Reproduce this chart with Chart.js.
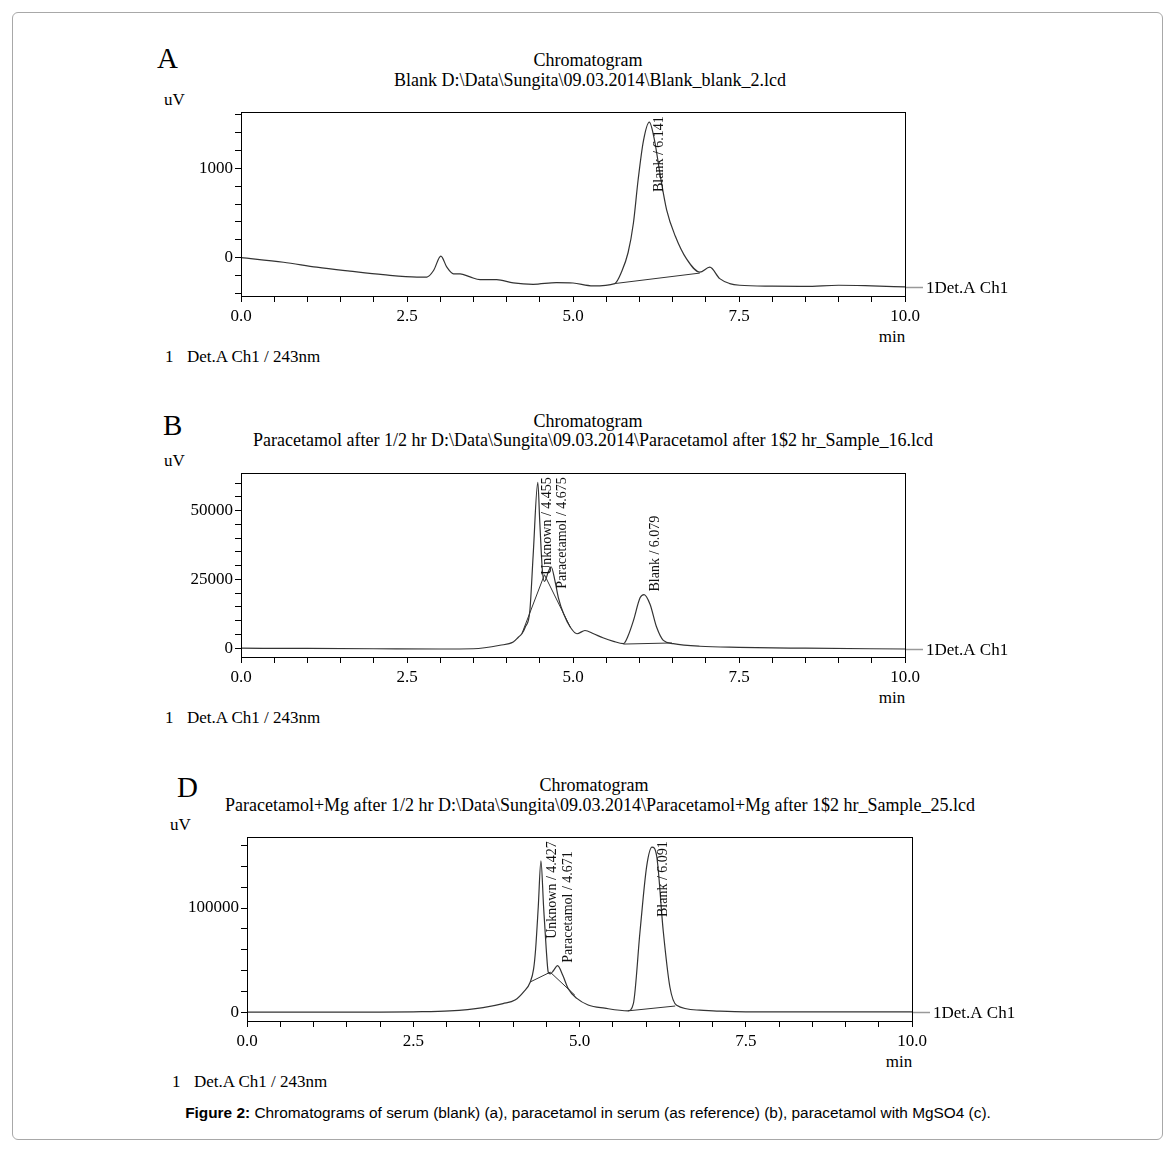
<!DOCTYPE html>
<html>
<head>
<meta charset="utf-8">
<script src="https://cdn.jsdelivr.net/npm/chart.js@4.4.1/dist/chart.umd.min.js"></script>
<style>
body { margin: 0; background: #fff; }
#page { position: relative; width: 1175px; height: 1151px; font-family: 'Liberation Serif', serif; color: #000; }
#frame { position: absolute; left: 12px; top: 12px; width: 1149px; height: 1126px; border: 1px solid #a8a8a8; border-radius: 6px; }
.t { position: absolute; white-space: nowrap; line-height: 1; transform: translateY(-50%); font-size: 17px; }
.c { transform: translate(-50%, -50%); }
.title { font-size: 18px; }
.letter { font-size: 29px; }
canvas { position: absolute; }
#caption { font-family: 'Liberation Sans', Arial, sans-serif; font-size: 15.4px; }
</style>
</head>
<body>
<div id="page">
  <div id="frame"></div>

  <div class="t letter" style="left:157px;top:58px">A</div>
  <div class="t c title" style="left:588px;top:60px">Chromatogram</div>
  <div class="t c title" style="left:590px;top:80px">Blank D:\Data\Sungita\09.03.2014\Blank_blank_2.lcd</div>
  <div class="t" style="left:164px;top:99px">uV</div>
  <div class="t c" style="left:892px;top:336px">min</div>
  <div class="t" style="left:165px;top:356px">1</div>
  <div class="t" style="left:187px;top:356px">Det.A Ch1 / 243nm</div>
  <canvas id="chartA" width="859" height="230" style="left:161px;top:100px"></canvas>

  <div class="t letter" style="left:163px;top:425px">B</div>
  <div class="t c title" style="left:588px;top:421px">Chromatogram</div>
  <div class="t c title" style="left:593px;top:440px">Paracetamol after 1/2 hr D:\Data\Sungita\09.03.2014\Paracetamol after 1$2 hr_Sample_16.lcd</div>
  <div class="t" style="left:164px;top:460px">uV</div>
  <div class="t c" style="left:892px;top:697px">min</div>
  <div class="t" style="left:165px;top:717px">1</div>
  <div class="t" style="left:187px;top:717px">Det.A Ch1 / 243nm</div>
  <canvas id="chartB" width="859" height="230" style="left:161px;top:461px"></canvas>

  <div class="t letter" style="left:177px;top:787px">D</div>
  <div class="t c title" style="left:594px;top:785px">Chromatogram</div>
  <div class="t c title" style="left:600px;top:805px">Paracetamol+Mg after 1/2 hr D:\Data\Sungita\09.03.2014\Paracetamol+Mg after 1$2 hr_Sample_25.lcd</div>
  <div class="t" style="left:170px;top:824px">uV</div>
  <div class="t c" style="left:899px;top:1061px">min</div>
  <div class="t" style="left:172px;top:1081px">1</div>
  <div class="t" style="left:194px;top:1081px">Det.A Ch1 / 243nm</div>
  <canvas id="chartD" width="859" height="230" style="left:167px;top:825px"></canvas>

  <div id="caption" class="t c" style="left:588px;top:1113px"><b>Figure 2:</b> Chromatograms of serum (blank) (a), paracetamol in serum (as reference) (b), paracetamol with MgSO4 (c).</div>
</div>

<script>
Chart.defaults.font.family = "'Liberation Serif', serif";
Chart.defaults.font.size = 17;
Chart.defaults.color = '#000';

// A: blank serum
const aTime = [0, 0.64, 1.14, 1.64, 2.14, 2.65, 2.8, 2.9, 3.01, 3.1, 3.2, 3.3, 3.45, 3.6, 3.85, 4.1, 4.4, 4.75, 5.0, 5.3,
               5.63, 5.73, 5.83, 5.91, 5.98, 6.06, 6.15, 6.23, 6.31, 6.41, 6.54, 6.71, 6.91, 7.06, 7.21, 7.36, 7.51,
               8.0, 8.5, 9.0, 9.5, 10.0];
const aSignal = [0, -51, -106, -150, -190, -216, -216, -143, 18, -106, -180, -180, -215, -245, -245, -282, -297, -278, -283, -315,
                 -289, -161, 58, 388, 865, 1304, 1516, 1304, 937, 535, 242, -14, -161, -106, -234, -289, -308,
                 -318, -320, -308, -315, -326];
const aBaseTime = [[5.63, 6.91]];
const aBaseVal = [[-289, -172]];
const aPeakNames = ['Blank / 6.141'];
const aPeakTimes = [6.141];
const aYLabels = [0, 1000];

// B: paracetamol after 1/2 hr
const bTime = [0, 1.0, 2.0, 3.0, 3.5, 3.9, 4.1, 4.18, 4.23, 4.28, 4.35, 4.40, 4.47, 4.5, 4.54, 4.57, 4.63, 4.67, 4.73, 4.78,
               4.86, 4.96, 5.06, 5.18, 5.31, 5.45, 5.61, 5.76, 5.83, 5.91, 6.01, 6.07, 6.16, 6.26, 6.36, 6.51, 6.91,
               7.5, 8.5, 10.0];
const bSignal = [0, -100, -200, -300, -200, 1070, 2250, 4050, 5250, 7600, 13570, 33800, 60250, 45700, 27860, 24300, 27860, 29600, 24300, 18300,
                 12400, 7600, 5250, 6430, 5250, 3800, 2500, 1680, 4500, 10000, 18300, 19500, 16000, 7600, 2860, 1680, 700,
                 300, 0, -300];
const bBaseTime = [[4.23, 4.57, 4.96], [5.76, 6.49]];
const bBaseVal = [[5250, 26700, 7600], [1500, 1900]];
const bPeakNames = ['Unknown / 4.455', 'Paracetamol / 4.675', 'Blank / 6.079'];
const bPeakTimes = [4.455, 4.675, 6.079];
const bYLabels = [0, 25000, 50000];

// D: paracetamol + Mg after 1/2 hr
const dTime = [0, 1.0, 2.0, 2.5, 3.05, 3.55, 3.85, 4.03, 4.16, 4.26, 4.31, 4.34, 4.38, 4.42, 4.46, 4.5, 4.53, 4.56, 4.61, 4.67,
               4.75, 4.83, 4.96, 5.13, 5.38, 5.73, 5.81, 5.91, 6.01, 6.09, 6.16, 6.26, 6.36, 6.46, 6.81, 7.11, 7.5,
               8.5, 10.0];
const dSignal = [0, 0, 0, 300, 1200, 4400, 8200, 11600, 19500, 29000, 41500, 60400, 101200, 145300, 101200, 60400, 38400, 36800, 40000, 44600,
                 35200, 22600, 13200, 6900, 3800, 1250, 8200, 77400, 140000, 158500, 150000, 77400, 23900, 6600, 1900, 900, 300,
                 300, 300];
const dBaseTime = [[4.26, 4.56, 4.93], [5.73, 6.44]];
const dBaseVal = [[29000, 38400, 16300], [1250, 5900]];
const dPeakNames = ['Unknown / 4.427', 'Paracetamol / 4.671', 'Blank / 6.091'];
const dPeakTimes = [4.427, 4.671, 6.091];
const dYLabels = [0, 100000];

const INK = '#333';

function points(times, values) {
    return times.map((t, i) => ({x: t, y: values[i]}));
}

// box round the plot area
const framePlugin = {
    id: 'frame',
    afterDraw(chart) {
        const a = chart.chartArea;
        const ctx = chart.ctx;
        ctx.save();
        ctx.strokeStyle = '#000';
        ctx.lineWidth = 1;
        ctx.strokeRect(Math.round(a.left) + 0.5, Math.round(a.top) + 0.5,
                       Math.round(a.right - a.left), Math.round(a.bottom - a.top));
        ctx.restore();
    }
};

// rotated peak names + channel tag at the right end of the trace
function peakLabels(names, times) {
    return {
        id: 'peaks',
        afterDatasetsDraw(chart) {
            const ctx = chart.ctx;
            const area = chart.chartArea;
            const xs = chart.scales.x, ys = chart.scales.y;
            const sig = chart.data.datasets[0].data;
            ctx.save();
            ctx.fillStyle = '#111';
            ctx.font = "14px 'Liberation Serif'";
            names.forEach((name, i) => {
                const rt = times[i];
                const apex = Math.max(...sig.filter(p => Math.abs(p.x - rt) < 0.07).map(p => p.y));
                const w = ctx.measureText(name).width;
                let y0 = ys.getPixelForValue(apex) - 3;
                if (y0 - w < area.top + 4) y0 = area.top + 4 + w;
                ctx.save();
                ctx.translate(xs.getPixelForValue(rt) + 4, y0);
                ctx.rotate(-Math.PI / 2);
                ctx.textBaseline = 'top';
                ctx.fillText(name, 0, 0);
                ctx.restore();
            });
            const last = sig[sig.length - 1];
            const yEnd = Math.round(ys.getPixelForValue(last.y)) + 0.5;
            ctx.strokeStyle = '#999';
            ctx.lineWidth = 1.5;
            ctx.beginPath();
            ctx.moveTo(area.right, yEnd);
            ctx.lineTo(area.right + 18, yEnd);
            ctx.stroke();
            ctx.font = "17px 'Liberation Serif'";
            ctx.fillStyle = '#000';
            ctx.textBaseline = 'middle';
            ctx.fillText('1Det.A Ch1', area.right + 21, yEnd + 1);
            ctx.restore();
        }
    };
}

function makeChart(id, c) {
    const datasets = [{
        data: points(c.time, c.signal),
        borderColor: INK,
        borderWidth: 1.2,
        pointRadius: 0,
        cubicInterpolationMode: 'monotone'
    }];
    c.baseTime.forEach((bt, i) => {
        datasets.push({
            data: points(bt, c.baseVal[i]),
            borderColor: INK,
            borderWidth: 1,
            pointRadius: 0,
            tension: 0
        });
    });
    return new Chart(document.getElementById(id), {
        type: 'line',
        data: {datasets: datasets},
        options: {
            responsive: false,
            animation: false,
            devicePixelRatio: 1,
            layout: {padding: {top: 9, right: c.padRight, left: 0, bottom: 0}},
            plugins: {legend: {display: false}, tooltip: {enabled: false}},
            scales: {
                x: {
                    type: 'linear', min: 0, max: 10,
                    afterFit: s => { s.height = 34; },
                    grid: {drawOnChartArea: false, tickLength: 6, color: '#000'},
                    border: {color: '#000'},
                    ticks: {
                        stepSize: 0.5, autoSkip: false, maxRotation: 0, padding: 4, includeBounds: false,
                        callback: v => (Math.abs(v % 2.5) < 1e-6 ? v.toFixed(1) : '')
                    }
                },
                y: {
                    type: 'linear', min: c.yMin, max: c.yMax,
                    afterFit: s => { s.width = 80; },
                    // minor ticks on whole multiples of the step, not spread from min to max
                    afterBuildTicks: s => {
                        const t = [];
                        for (let v = Math.ceil(c.yMin / c.yStep) * c.yStep; v <= c.yMax; v += c.yStep) t.push({value: v});
                        s.ticks = t;
                    },
                    grid: {drawOnChartArea: false, tickLength: 6, color: '#000'},
                    border: {color: '#000'},
                    ticks: {
                        autoSkip: false, padding: 2,
                        callback: v => (c.yLabels.includes(v) ? String(v) : '')
                    }
                }
            }
        },
        plugins: [framePlugin, peakLabels(c.peakNames, c.peakTimes)]
    });
}

makeChart('chartA', {time: aTime, signal: aSignal, baseTime: aBaseTime, baseVal: aBaseVal,
    peakNames: aPeakNames, peakTimes: aPeakTimes, yLabels: aYLabels,
    yMin: -428, yMax: 1626, yStep: 200, padRight: 115});
makeChart('chartB', {time: bTime, signal: bSignal, baseTime: bBaseTime, baseVal: bBaseVal,
    peakNames: bPeakNames, peakTimes: bPeakTimes, yLabels: bYLabels,
    yMin: -3200, yMax: 63600, yStep: 5000, padRight: 115});
makeChart('chartD', {time: dTime, signal: dSignal, baseTime: dBaseTime, baseVal: dBaseVal,
    peakNames: dPeakNames, peakTimes: dPeakTimes, yLabels: dYLabels,
    yMin: -8500, yMax: 168000, yStep: 20000, padRight: 114});
</script>
</body>
</html>
